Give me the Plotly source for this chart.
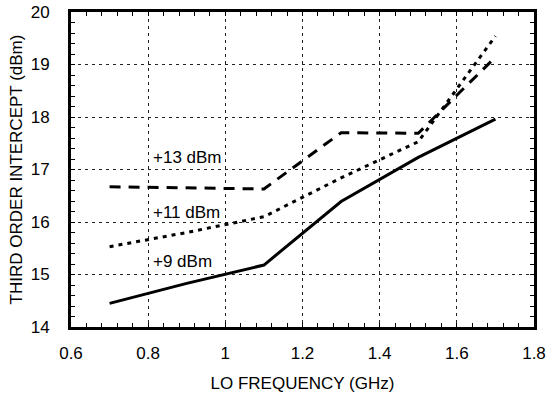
import plotly.graph_objects as go

freq = [0.7, 0.9, 1.1, 1.3, 1.5, 1.7]
lo9 = [14.45, 14.83, 15.18, 16.39, 17.23, 17.96]
lo11 = [15.53, 15.80, 16.10, 16.84, 17.53, 19.54]
lo13 = [16.67, 16.65, 16.63, 17.70, 17.69, 19.14]

labels = ["+9 dBm", "+11 dBm", "+13 dBm"]
label_x = [0.807, 0.807, 0.807]
label_y = [15.24, 16.18, 17.23]

x_ticks = [0.6, 0.8, 1.0, 1.2, 1.4, 1.6, 1.8]
x_ticktext = ["0.6", "0.8", "1", "1.2", "1.4", "1.6", "1.8"]
y_ticks = [14, 15, 16, 17, 18, 19, 20]

FONT = "Arial, Liberation Sans, sans-serif"
FS = 17

fig = go.Figure()
fig.add_trace(go.Scatter(x=freq, y=lo9, mode="lines", name=labels[0],
                         line=dict(color="black", width=3, dash="solid")))
fig.add_trace(go.Scatter(x=freq, y=lo11, mode="lines", name=labels[1],
                         line=dict(color="black", width=3, dash="4px,5px")))
fig.add_trace(go.Scatter(x=freq, y=lo13, mode="lines", name=labels[2],
                         line=dict(color="black", width=3, dash="11px,8px")))

for t, xx, yy in zip(labels, label_x, label_y):
    fig.add_annotation(x=xx, y=yy, text=t, showarrow=False, xanchor="left",
                       yanchor="middle", font=dict(family=FONT, size=FS, color="black"))

axis_common = dict(
    showline=True, linecolor="black", linewidth=3, mirror="ticks",
    showgrid=True, gridcolor="#222", gridwidth=1, griddash="3px,4px",
    zeroline=False, ticks="inside", ticklen=4, tickwidth=1, tickcolor="black",
    tickfont=dict(family=FONT, size=FS, color="black"),
    automargin=False,
)

fig.update_xaxes(
    range=[0.6, 1.8], tickvals=x_ticks, ticktext=x_ticktext,
    minor=dict(dtick=0.04, ticks="inside", ticklen=4, tickwidth=1, tickcolor="black", showgrid=False),
    title=dict(text="LO FREQUENCY (GHz)", font=dict(family=FONT, size=FS, color="black"), standoff=15),
    ticklabelstandoff=9,
    **axis_common,
)
fig.update_yaxes(
    range=[14, 20], tickvals=y_ticks,
    minor=dict(dtick=0.2, ticks="inside", ticklen=4, tickwidth=1, tickcolor="black", showgrid=False),
    title=dict(text="THIRD ORDER INTERCEPT (dBm)", font=dict(family=FONT, size=FS, color="black"), standoff=4),
    ticklabelstandoff=15,
    **axis_common,
)

fig.update_layout(
    width=546, height=394,
    margin=dict(l=71, r=12, t=12, b=67),
    paper_bgcolor="white", plot_bgcolor="white",
    showlegend=False,
    font=dict(family=FONT, color="black"),
)

fig.write_html("out.html", config={"displayModeBar": False},
               post_script="document.body.style.margin='0px';")
